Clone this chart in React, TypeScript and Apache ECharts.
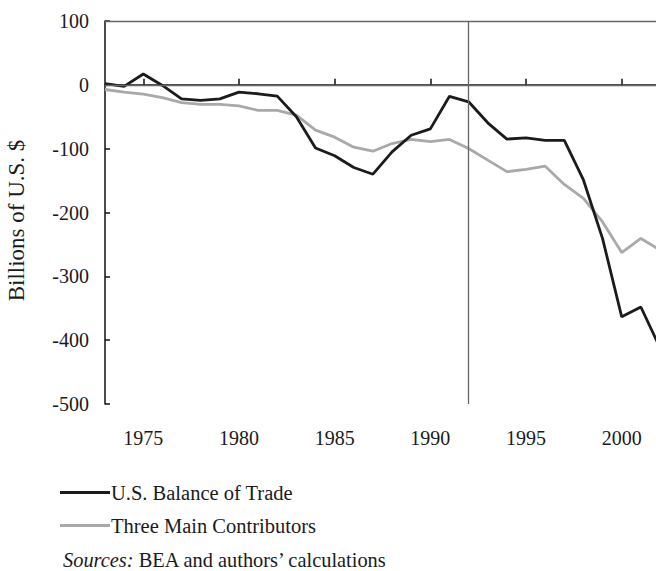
import React, { useEffect, useRef } from "react";
import * as echarts from "echarts";

const years = [
  "1973", "1974", "1975", "1976", "1977", "1978", "1979", "1980", "1981", "1982",
  "1983", "1984", "1985", "1986", "1987", "1988", "1989", "1990", "1991", "1992",
  "1993", "1994", "1995", "1996", "1997", "1998", "1999", "2000", "2001", "2002",
];
const balanceOfTrade = [
  2, -2.5, 17, -1, -22, -24.5, -22, -11.5, -14, -17.7,
  -50, -99, -111, -129.5, -140, -105, -79, -69, -18, -26.6,
  -59.5, -85, -83, -87, -87, -149, -241, -363.5, -348, -412,
];
const threeMainContributors = [
  -7.3, -11.5, -14.5, -20, -28, -30.7, -30.7, -33, -40, -40,
  -47.5, -71, -82, -97.6, -104, -92, -85.6, -89, -85.6, -99.7,
  -118, -136, -132.6, -127.5, -156, -178, -214.7, -262.7, -240.7, -259,
];
const seriesNames = ["U.S. Balance of Trade", "Three Main Contributors"];
const yTicks = { min: -500, max: 100, interval: 100 };

const FONT = "'Liberation Serif', 'Times New Roman', serif";
const TEXT = "#1a1a1a";

export default function App() {
  const ref = useRef<HTMLDivElement>(null);
  useEffect(() => {
    if (!ref.current) return;
    const chart = echarts.init(ref.current, undefined, { renderer: "svg" });
    chart.setOption({
      animation: false,
      backgroundColor: "#ffffff",
      textStyle: { fontFamily: FONT, color: TEXT },
      grid: {
        left: 105,
        top: 21,
        width: 555,
        height: 383,
        containLabel: false,
        outerBoundsMode: "none",
      },
      xAxis: {
        type: "category",
        data: years,
        boundaryGap: false,
        axisLine: { show: true, lineStyle: { color: "#111", width: 1.5 } },
        axisTick: {
          show: true,
          inside: true,
          length: 6,
          interval: (i: number, v: string) => Number(v) % 5 === 0,
          lineStyle: { color: "#111", width: 1.5 },
        },
        axisLabel: {
          interval: (i: number, v: string) => Number(v) % 5 === 0,
          margin: 24,
          fontFamily: FONT,
          fontSize: 20,
          color: TEXT,
        },
        splitLine: { show: false },
      },
      yAxis: {
        type: "value",
        min: yTicks.min,
        max: yTicks.max,
        interval: yTicks.interval,
        name: "Billions of U.S. $",
        nameLocation: "middle",
        nameGap: 77,
        nameRotate: 90,
        nameTextStyle: { fontFamily: FONT, fontSize: 23, color: TEXT, padding: [0, 16, 0, 0] },
        axisLine: { show: true, lineStyle: { color: "#111", width: 1.5 } },
        axisTick: { show: true, inside: true, length: 5, lineStyle: { color: "#111", width: 1.5 } },
        axisLabel: { margin: 16, fontFamily: FONT, fontSize: 20, color: TEXT },
        splitLine: { show: false },
      },
      legend: {
        orient: "vertical",
        left: 60,
        top: 482,
        padding: 0,
        itemWidth: 50,
        itemHeight: 3,
        itemGap: 12,
        icon: "rect",
        data: seriesNames,
        textStyle: { fontFamily: FONT, fontSize: 20.5, color: TEXT, padding: [0, 0, 0, -4] },
      },
      series: [
        {
          name: seriesNames[0],
          type: "line",
          data: balanceOfTrade,
          showSymbol: false,
          symbol: "none",
          clip: false,
          z: 3,
          lineStyle: { color: "#1b1b1b", width: 2.8 },
          itemStyle: { color: "#1b1b1b" },
          markLine: {
            silent: true,
            symbol: "none",
            label: { show: false },
            lineStyle: { color: "#666", width: 1.3, type: "solid" },
            data: [{ yAxis: 0 }, { yAxis: 100 }, { xAxis: "1992" }],
          },
        },
        {
          name: seriesNames[1],
          type: "line",
          data: threeMainContributors,
          showSymbol: false,
          symbol: "none",
          clip: false,
          z: 2,
          lineStyle: { color: "#a9a9a9", width: 2.8 },
          itemStyle: { color: "#a9a9a9" },
        },
      ],
      graphic: [
        {
          type: "text",
          left: 63,
          top: 550,
          style: {
            text: "{i|Sources:} BEA and authors’ calculations",
            font: `20.4px ${FONT}`,
            fill: TEXT,
            rich: {
              i: { fontStyle: "italic", fontFamily: FONT, fontSize: 20.4, fill: TEXT },
            },
          },
        },
      ],
    });
    return () => chart.dispose();
  }, []);
  return (
    <div style={{ position: "fixed", left: 0, top: 0, width: 656, height: 571, overflow: "hidden", background: "#fff" }}>
      <div ref={ref} style={{ width: 680, height: 571 }} />
    </div>
  );
}
